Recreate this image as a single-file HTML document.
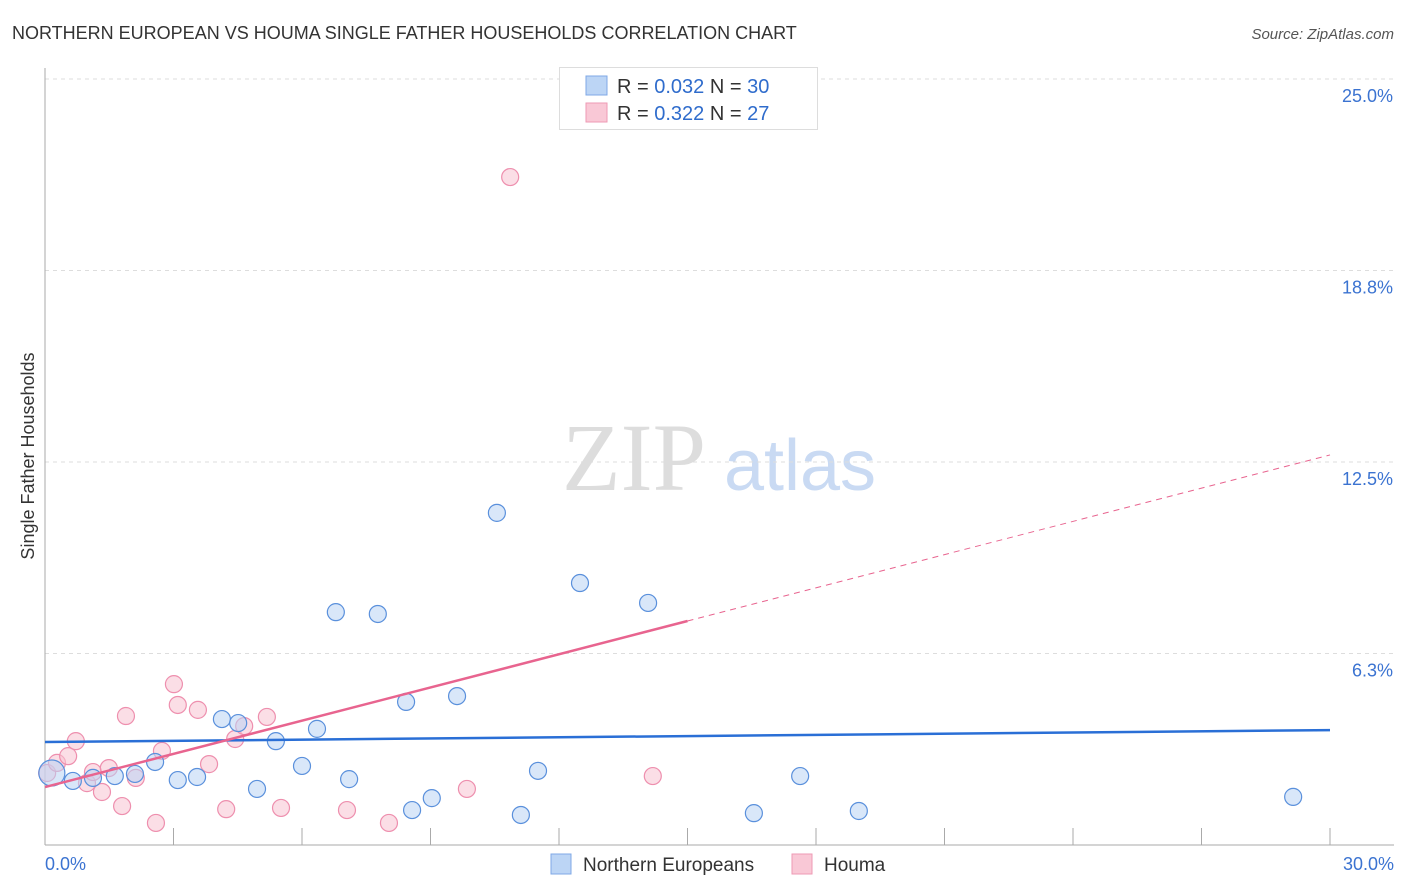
<!DOCTYPE html>
<html><head><meta charset="utf-8"><style>
body{margin:0;background:#fff;font-family:"Liberation Sans",sans-serif;}
svg{display:block}
</style></head><body>
<svg width="1406" height="892" viewBox="0 0 1406 892" xmlns="http://www.w3.org/2000/svg">
<text x="12" y="39" font-size="18" fill="#333">NORTHERN EUROPEAN VS HOUMA SINGLE FATHER HOUSEHOLDS CORRELATION CHART</text>
<text x="1394" y="39" font-size="15" fill="#555" font-style="italic" text-anchor="end">Source: ZipAtlas.com</text>
<g>
<text x="634" y="490" font-size="96" fill="#ddd" font-family="Liberation Serif,serif" text-anchor="middle">ZIP</text>
<text x="800" y="490" font-size="72" fill="#c9daf3" text-anchor="middle">atlas</text>
</g>
<g id="grid"></g>
<g id="axes"></g>
<g id="marks"></g>
<text transform="translate(34,456) rotate(-90)" font-size="18" fill="#333" text-anchor="middle">Single Father Households</text>
<g>
<rect x="559.5" y="67.5" width="258" height="62" fill="#fff" stroke="#ddd"/>
<rect x="586" y="76" width="21" height="19" fill="#bcd5f5" stroke="#7fa8e6"/>
<rect x="586" y="103" width="21" height="19" fill="#f9c8d6" stroke="#ee9ab4"/>
<text x="617" y="93" font-size="20" fill="#333">R = <tspan fill="#2f6ccc">0.032</tspan>   N = <tspan fill="#2f6ccc">30</tspan></text>
<text x="617" y="120" font-size="20" fill="#333">R =  <tspan fill="#2f6ccc">0.322</tspan>   N =  <tspan fill="#2f6ccc">27</tspan></text>
</g>
<g>
<rect x="551" y="854" width="20" height="20" fill="#bcd5f5" stroke="#7fa8e6"/>
<text x="583" y="871" font-size="19" fill="#333">Northern Europeans</text>
<rect x="792" y="854" width="20" height="20" fill="#f9c8d6" stroke="#ee9ab4"/>
<text x="824" y="871" font-size="19" fill="#333">Houma</text>
</g>
</svg>
<script>
const yTicks=[6.25,12.5,18.75,25];
const yTickLabels=["6.3%","12.5%","18.8%","25.0%"];
const xTickLabels=["0.0%","30.0%"];
const blueX=[0.16,0.65,1.12,1.63,2.10,2.57,3.10,3.55,4.13,4.51,4.95,5.39,6.00,6.35,6.79,7.10,7.77,8.43,8.57,9.03,9.62,10.55,11.11,11.51,12.49,14.08,16.55,17.63,19.00,29.14];
const blueY=[2.35,2.09,2.19,2.25,2.32,2.71,2.12,2.22,4.11,3.98,1.83,3.39,2.58,3.79,7.60,2.15,7.54,4.67,1.14,1.53,4.86,10.84,0.98,2.42,8.55,7.90,1.04,2.25,1.11,1.57];
const pinkX=[0.05,0.28,0.54,0.72,0.98,1.12,1.33,1.49,1.80,1.89,2.12,2.59,2.73,3.01,3.10,3.57,3.83,4.23,4.44,4.65,5.18,5.51,7.05,8.03,9.85,10.86,14.19];
const pinkY=[2.35,2.68,2.90,3.39,2.02,2.38,1.73,2.51,1.27,4.21,2.19,0.72,3.07,5.25,4.57,4.41,2.64,1.17,3.46,3.88,4.18,1.21,1.14,0.72,1.83,21.80,2.25];
const blueTrend=[3.36,3.75];
const pinkTrend=[1.89,12.73];
const pinkSolidEnd=15;
const X0=45,X1=1330,Y0=845,PXY=30.64;
const sx=v=>X0+v*(X1-X0)/30, sy=v=>Y0-v*PXY;
const NS="http://www.w3.org/2000/svg";
function mk(t,a,p){const e=document.createElementNS(NS,t);for(const k in a)e.setAttribute(k,a[k]);p.appendChild(e);return e;}
const grid=document.getElementById('grid'),axes=document.getElementById('axes'),marks=document.getElementById('marks');
yTicks.forEach((v,i)=>{
 const l=mk('line',{x1:X0,x2:1395,y1:sy(v),y2:sy(v),stroke:'#ddd','stroke-dasharray':'4,4'},grid);
 
 
 const t=mk('text',{x:1393,y:sy(v)+23,'font-size':18,fill:'#3b73d1','text-anchor':'end'},axes);
 t.textContent=yTickLabels[i];
 
 
});
const ya=mk('line',{x1:X0,x2:X0,y1:68,y2:Y0,stroke:'#aaa'},axes);


const xa=mk('line',{x1:X0,x2:X1+64,y1:Y0,y2:Y0,stroke:'#aaa'},axes);


for(let v=3;v<=30;v+=3){
 const t=mk('line',{x1:sx(v),x2:sx(v),y1:Y0-17,y2:Y0,stroke:'#aaa'},axes);
 
 
}
[[0,'start',45],[30,'end',1394]].forEach((d,i)=>{
 const t=mk('text',{x:d[2],y:870,'font-size':18,fill:'#3b73d1','text-anchor':d[1]},axes);
 t.textContent=xTickLabels[i];
 
 
});
function pts(X,Y,fill,stroke,name){
 X.forEach((x,i)=>{
  const c=mk('circle',{cx:sx(x),cy:sy(Y[i]),r:(name==='blue-point'&&i===0)?13:8.5,fill:fill,'fill-opacity':0.55,stroke:stroke,'stroke-width':1.2},marks);
  
  
 });
}
pts(pinkX,pinkY,'#f8c3d2','#ee8fae','houma-point');
pts(blueX,blueY,'#b9d3f4','#5a90dc','blue-point');
const bl=mk('line',{x1:sx(0),y1:sy(blueTrend[0]),x2:sx(30),y2:sy(blueTrend[1]),stroke:'#2a6fd6','stroke-width':2.5},marks);


const pm=pinkTrend[0]+(pinkTrend[1]-pinkTrend[0])*pinkSolidEnd/30;
const pl=mk('line',{x1:sx(0),y1:sy(pinkTrend[0]),x2:sx(pinkSolidEnd),y2:sy(pm),stroke:'#e8648f','stroke-width':2.5},marks);


const pd=mk('line',{x1:sx(pinkSolidEnd),y1:sy(pm),x2:sx(30),y2:sy(pinkTrend[1]),stroke:'#e8648f','stroke-width':1,'stroke-dasharray':'6,5'},marks);


</script>
</body></html>
